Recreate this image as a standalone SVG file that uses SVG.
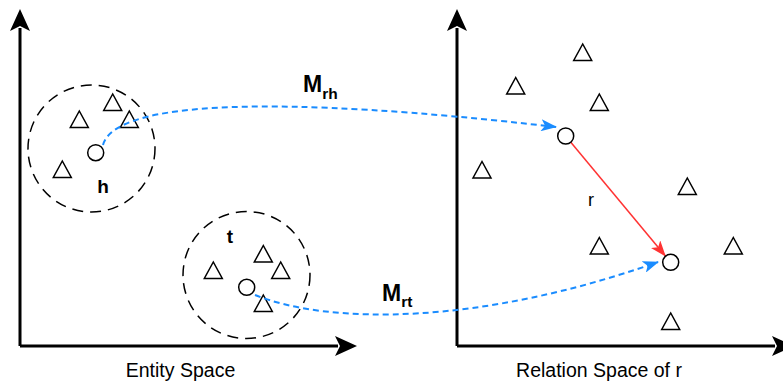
<svg xmlns="http://www.w3.org/2000/svg" width="783" height="381" viewBox="0 0 783 381">
<style>
.axis{stroke:#000;stroke-width:3;fill:none}
.head{fill:#000;stroke:none}
.tri{fill:#fff;stroke:#000;stroke-width:1.5;stroke-linejoin:miter}
.node{fill:#fff;stroke:#000;stroke-width:1.5}
.cluster{fill:none;stroke:#000;stroke-width:1.5;stroke-dasharray:11 7}
.map{fill:none;stroke:#1a8cff;stroke-width:2;stroke-dasharray:6 4}
.rel{fill:none;stroke:#ff3333;stroke-width:1.5}
.lbl{font-family:"Liberation Sans",Arial,sans-serif;fill:#000}
.b{font-weight:bold}
</style>
<defs>
<marker id="blueArrow" viewBox="0 0 16 12" refX="15" refY="6" markerWidth="16" markerHeight="12" markerUnits="userSpaceOnUse" orient="auto">
<path d="M0,0 L16,6 L0,12 L4,6 Z" fill="#1a8cff"/>
</marker>
<marker id="redArrow" viewBox="0 0 16 12" refX="15" refY="6" markerWidth="16" markerHeight="12" markerUnits="userSpaceOnUse" orient="auto">
<path d="M0,0 L16,6 L0,12 L4,6 Z" fill="#ff3333"/>
</marker>
<path id="triShape" d="M0,-8.5 L-9,8 L9,8 Z"/>
</defs>

<g id="entity-axes">
<line class="axis" x1="20" y1="346" x2="20" y2="28"/>
<path class="head" d="M20,9 L30,31 L20,26 L10,31 Z"/>
<line class="axis" x1="20" y1="346" x2="338" y2="346"/>
<path class="head" d="M357,346 L335,356 L340,346 L335,336 Z"/>
</g>

<g id="relation-axes">
<line class="axis" x1="457" y1="346" x2="457" y2="28"/>
<path class="head" d="M457,9 L467,31 L457,26 L447,31 Z"/>
<line class="axis" x1="457" y1="346" x2="775" y2="346"/>
<path class="head" d="M794,346 L772,356 L777,346 L772,336 Z"/>
</g>

<g id="cluster-h">
<circle class="cluster" cx="91.5" cy="148.5" r="63.5"/>
<use href="#triShape" class="tri" x="112.7" y="102.5"/>
<use href="#triShape" class="tri" x="79.3" y="119.5"/>
<use href="#triShape" class="tri" x="129.3" y="119.5"/>
<use href="#triShape" class="tri" x="62.3" y="169.5"/>
</g>

<g id="cluster-t">
<circle class="cluster" cx="246.5" cy="275" r="63.5"/>
<use href="#triShape" class="tri" x="213.3" y="270.5"/>
<use href="#triShape" class="tri" x="263.3" y="254"/>
<use href="#triShape" class="tri" x="280.7" y="270.5"/>
<use href="#triShape" class="tri" x="263.3" y="303.5"/>
</g>

<g id="relation-points">
<use href="#triShape" class="tri" x="582.7" y="52.5"/>
<use href="#triShape" class="tri" x="515.7" y="86"/>
<use href="#triShape" class="tri" x="599.3" y="102.5"/>
<use href="#triShape" class="tri" x="482" y="170"/>
<use href="#triShape" class="tri" x="687.3" y="186.5"/>
<use href="#triShape" class="tri" x="599.3" y="246"/>
<use href="#triShape" class="tri" x="733.3" y="246"/>
<use href="#triShape" class="tri" x="670.7" y="321.5"/>
</g>

<g id="connectors">
<path class="map" d="M103,145 C115,100 280,95 556,127" marker-end="url(#blueArrow)"/>
<path class="map" d="M255,295 C330,325 480,325 658,262" marker-end="url(#blueArrow)"/>
<line class="rel" x1="570.8" y1="142.2" x2="665.2" y2="255.8" marker-end="url(#redArrow)"/>
</g>

<g id="node-h">
<circle class="node" cx="95.7" cy="152.7" r="8"/>
<text class="lbl b" x="103" y="192.5" font-size="19" text-anchor="middle">h</text>
</g>
<g id="node-t">
<circle class="node" cx="246.7" cy="287.3" r="8"/>
<text class="lbl b" x="230" y="243.3" font-size="19" text-anchor="middle">t</text>
</g>
<g id="node-h-proj">
<circle class="node" cx="565.7" cy="136" r="8"/>
</g>
<g id="node-t-proj">
<circle class="node" cx="670.7" cy="262.3" r="8"/>
</g>

<g id="labels">
<text class="lbl b" x="303" y="91.7" font-size="23">M<tspan font-size="15.5" dy="6.8">rh</tspan></text>
<text class="lbl b" x="382" y="300.7" font-size="23">M<tspan font-size="15.5" dy="6.3">rt</tspan></text>
<text class="lbl" x="591" y="205.7" font-size="18" text-anchor="middle">r</text>
<text class="lbl" x="180.5" y="376.7" font-size="19.5" text-anchor="middle">Entity Space</text>
<text class="lbl" x="599" y="376.7" font-size="19.5" text-anchor="middle">Relation Space of r</text>
</g>
</svg>
